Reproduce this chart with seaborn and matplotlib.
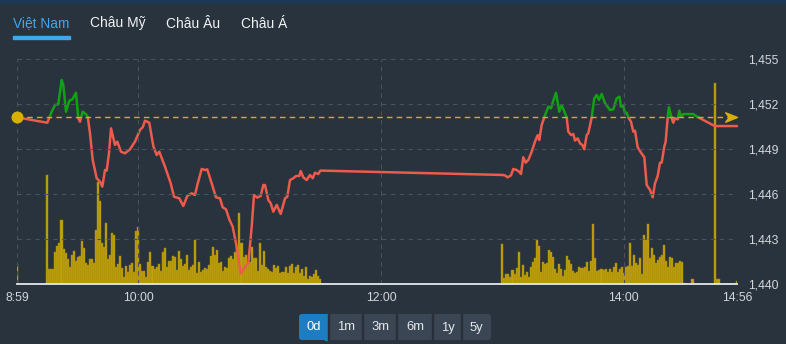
import numpy as np
import pandas as pd
import matplotlib
matplotlib.use("Agg")
import matplotlib.pyplot as plt
from matplotlib.patches import Rectangle, FancyBboxPatch
from matplotlib.path import Path
from matplotlib.transforms import IdentityTransform
from matplotlib.ticker import FuncFormatter
import seaborn as sns

# ---------------- data ----------------
ref_price = 1451.11

price_times = [
    "09:00:00", "09:15:00", "09:17:10", "09:18:47", "09:20:25", "09:22:06", "09:22:53", "09:24:14",
    "09:25:52", "09:27:21", "09:29:10", "09:30:19", "09:31:09", "09:32:29", "09:34:07", "09:34:58",
    "09:36:05", "09:37:26", "09:39:24", "09:41:02", "09:42:11", "09:43:31", "09:44:21", "09:45:29",
    "09:46:29", "09:48:27", "09:49:35", "09:51:25", "09:53:24", "09:55:52", "09:58:21", "10:00:49",
    "10:02:09", "10:03:17", "10:05:25", "10:07:23", "10:09:04", "10:10:21", "10:13:11", "10:16:00",
    "10:17:38", "10:20:15", "10:22:14", "10:24:12", "10:26:23", "10:28:01", "10:29:09", "10:31:19",
    "10:32:57", "10:34:05", "10:36:16", "10:38:23", "10:40:22", "10:41:42", "10:43:20", "10:44:58",
    "10:46:39", "10:48:17", "10:50:36", "10:52:44", "10:54:22", "10:56:03", "10:57:11", "10:58:49",
    "11:00:30", "11:01:47", "11:02:37", "11:04:15", "11:05:26", "11:06:44", "11:08:25", "11:10:23",
    "11:12:31", "11:13:39", "11:14:59", "11:16:37", "11:17:57", "11:19:35", "11:20:16", "11:21:34",
    "11:23:14", "11:24:52", "11:26:13", "11:27:20", "11:28:58", "11:30:00",
    "13:00:00", "13:01:17", "13:02:37", "13:04:15", "13:05:23", "13:07:04", "13:08:13", "13:09:12",
    "13:10:20", "13:11:31", "13:12:49", "13:14:29", "13:16:07", "13:17:28", "13:18:14", "13:19:26",
    "13:20:43", "13:22:42", "13:24:02", "13:25:10", "13:26:30", "13:28:08", "13:29:19", "13:30:57",
    "13:31:47", "13:32:35", "13:33:55", "13:35:04", "13:35:54", "13:37:14", "13:38:22", "13:39:31",
    "13:40:30", "13:41:41", "13:42:29", "13:44:10", "13:45:26", "13:46:38", "13:47:46", "13:49:06",
    "13:50:44", "13:53:12", "13:54:50", "13:56:31", "13:57:54", "13:58:38", "13:59:47", "14:00:37",
    "14:01:28", "14:02:15", "14:03:35", "14:04:43", "14:05:34", "14:06:54", "14:08:32", "14:10:10",
    "14:11:21", "14:12:59", "14:14:19", "14:15:27", "14:16:47", "14:17:56", "14:18:46", "14:20:03",
    "14:20:44", "14:21:44", "14:22:22", "14:23:43", "14:24:30", "14:25:20", "14:26:40", "14:27:28",
    "14:28:19", "14:29:27", "14:34:23", "14:36:52", "14:45:00", "14:56:00",
]
price_values = [
    1451.11, 1450.75, 1451.49, 1451.93, 1451.98, 1453.60, 1453.27, 1451.49,
    1452.22, 1452.30, 1452.75, 1451.05, 1450.82, 1451.49, 1451.31, 1451.15,
    1450.05, 1448.27, 1447.05, 1446.82, 1446.49, 1447.60, 1447.56, 1448.71,
    1450.38, 1449.27, 1449.49, 1448.82, 1448.71, 1448.98, 1449.49, 1450.27,
    1450.45, 1450.89, 1450.75, 1449.20, 1448.60, 1448.82, 1447.82, 1446.71,
    1445.82, 1445.71, 1445.20, 1445.87, 1446.05, 1445.93, 1446.60, 1447.67,
    1447.60, 1447.64, 1446.71, 1445.78, 1445.71, 1445.11, 1444.98, 1444.31,
    1443.82, 1442.71, 1440.71, 1441.15, 1441.38, 1443.82, 1445.93, 1445.76,
    1445.87, 1446.60, 1446.60, 1445.60, 1445.38, 1444.82, 1445.27, 1444.67,
    1445.71, 1445.82, 1446.93, 1447.05, 1447.20, 1447.20, 1447.53, 1447.11,
    1446.93, 1447.27, 1447.05, 1447.42, 1447.33, 1447.56,
    1447.27, 1447.24, 1447.11, 1447.24, 1447.67, 1447.60, 1447.49, 1447.33,
    1448.45, 1448.09, 1448.27, 1448.82, 1449.49, 1449.93, 1449.60, 1450.60,
    1451.11, 1451.82, 1451.71, 1452.22, 1452.75, 1451.49, 1451.93, 1451.38,
    1451.11, 1450.16, 1449.93, 1450.00, 1449.56, 1449.71, 1449.38, 1449.27,
    1448.98, 1449.93, 1450.05, 1451.11, 1452.38, 1452.60, 1452.27, 1452.67,
    1452.05, 1451.60, 1451.64, 1452.38, 1452.49, 1451.82, 1451.87, 1451.38,
    1451.42, 1451.11, 1450.82, 1450.16, 1450.22, 1449.11, 1448.76, 1448.45,
    1446.60, 1446.27, 1445.78, 1446.71, 1447.20, 1448.09, 1448.09, 1449.16,
    1449.49, 1451.11, 1451.78, 1451.05, 1450.75, 1451.05, 1450.98, 1451.56,
    1451.15, 1451.33, 1451.33, 1451.11, 1450.53, 1450.53,
]

# per-minute volume (relative units)
vol_am_start = "09:15"
vol_am = [
    109, 15, 15, 15, 32, 38, 41, 64, 35, 31, 25, 17, 29, 33, 23, 27, 28, 43, 36, 21,
    19, 25, 25, 21, 54, 102, 83, 41, 37, 61, 25, 29, 51, 49, 17, 20, 28, 16, 7, 18,
    12, 19, 21, 12, 53, 57, 20, 13, 13, 7, 22, 32, 18, 15, 17, 20, 13, 32, 36, 17,
    23, 23, 28, 27, 14, 33, 25, 18, 20,
    29, 14, 17, 19, 44, 11, 22, 12, 14, 16, 15, 19, 28, 37, 29, 34, 21, 22, 13, 17,
    16, 26, 28, 25, 32, 38, 71, 41, 27, 29, 20, 22, 37, 26, 26, 13, 41, 19, 33, 17,
    15, 13, 12, 19, 16, 18, 11, 12, 12, 17, 11, 18, 20, 11, 17, 19, 11, 15, 8, 17,
    5, 8, 7, 10, 14, 8, 5,
]
vol_pm_start = "13:00"
vol_pm = [
    40, 6, 10, 10, 7, 14, 10, 16, 32, 7, 19, 9, 12, 7, 17, 22, 26, 44, 38, 12,
    22, 20, 21, 34, 32, 27, 15, 11, 20, 15, 8, 14, 28, 24, 20, 13, 11, 12, 17, 16,
    16, 17, 22, 13, 23, 60, 26, 13, 14, 15, 14, 15, 12, 15, 12, 17, 21,
    12, 15, 17, 11, 17, 18, 41, 18, 29, 21, 19, 26, 10, 49, 44, 60, 26, 36, 29, 21,
    24, 27, 29, 39, 23, 17, 27, 26, 17, 21, 21, 23, 22, 1,
]
vol_extra_times = ["09:00", "14:34", "14:45", "14:46", "14:47", "14:56"]
vol_extra = [20, 5, 201, 5, 5, 3]

axis_start, axis_end = "09:00", "14:56"
x_tick_times = ["09:00", "10:00", "12:00", "14:00", "14:56"]
x_tick_labels = ["8:59", "10:00", "12:00", "14:00", "14:56"]
y_ticks = [1440, 1443, 1446, 1449, 1452, 1455]
tabs = ["Việt Nam", "Châu Mỹ", "Châu Âu", "Châu Á"]
ranges = ["0d", "1m", "3m", "6m", "1y", "5y"]

# ---------------- style ----------------
BG = "#29333d"
GRID = "#4a535d"
RED = "#ee5a4b"
GREEN = "#13a113"
GOLD = "#d8b100"
BAR = "#c4a309"
BAR_EDGE = "#9a8412"
TXT = "#d2d6db"

sns.set_style("dark")
plt.rcParams["font.family"] = ["Liberation Sans", "DejaVu Sans"]


def to_min(s):
    p = [int(v) for v in s.split(":")]
    return p[0] * 60 + p[1] + (p[2] / 60 if len(p) > 2 else 0)


price_df = pd.DataFrame({"t": [to_min(s) for s in price_times], "price": price_values})

am_t = to_min(vol_am_start) + np.arange(len(vol_am))
pm_t = to_min(vol_pm_start) + np.arange(len(vol_pm))
vol_df = pd.DataFrame({
    "t": np.concatenate([am_t, pm_t, [to_min(s) for s in vol_extra_times]]),
    "vol": np.concatenate([vol_am, vol_pm, vol_extra]).astype(float),
}).sort_values("t")

W, H = 786, 344
fig = plt.figure(figsize=(W / 100, H / 100), dpi=100)
fig.patch.set_facecolor(BG)

ax = fig.add_axes([17 / W, 60 / H, 720 / W, 225 / H])
ax_v = ax.twinx()
ax_v.set_zorder(ax.get_zorder() - 1)
ax.patch.set_visible(False)
ax_v.set_facecolor(BG)

x0, x1 = to_min(axis_start), to_min(axis_end)

# volume bars
sns.barplot(data=vol_df, x="t", y="vol", native_scale=True, orient="x", width=1.0,
            color=BAR, edgecolor=BAR_EDGE, linewidth=0.35, errorbar=None,
            saturation=1, ax=ax_v)
ax_v.set_ylim(0, 225)
ax_v.set_xlim(x0, x1)
ax_v.set_yticks([])
ax_v.set_xlabel("")
ax_v.set_ylabel("")
for s in ax_v.spines.values():
    s.set_visible(False)

# price line: green above reference, red below
for col, lower in ((RED, True), (GREEN, False)):
    sns.lineplot(data=price_df, x="t", y="price", sort=False, estimator=None,
                 color=col, linewidth=1.8, ax=ax)
    ln = ax.lines[-1]
    if lower:
        clip = Rectangle((x0 - 10, 1400), x1 - x0 + 20, ref_price - 1400, transform=ax.transData)
    else:
        clip = Rectangle((x0 - 10, ref_price), x1 - x0 + 20, 100, transform=ax.transData)
    ln.set_clip_path(clip)

ax.axhline(ref_price, color=GOLD, linestyle=(0, (4, 3)), linewidth=1.0, zorder=3)
sns.scatterplot(x=[price_df["t"].iloc[0]], y=[ref_price], color=GOLD, s=75,
                linewidth=0, ax=ax, zorder=6, clip_on=False)
arrow = Path([(-2.0, -0.8), (0.0, 0.0), (-2.0, 0.8), (-1.4, 0.0), (-2.0, -0.8)],
             [Path.MOVETO, Path.LINETO, Path.LINETO, Path.LINETO, Path.CLOSEPOLY])
ax.plot([x1], [ref_price], marker=arrow, markersize=17, color=GOLD, clip_on=False,
        linestyle="none", zorder=6)

ax.set_xlim(x0, x1)
ax.set_ylim(y_ticks[0], y_ticks[-1])
ax.set_xlabel("")
ax.set_ylabel("")
ax.set_xticks([to_min(s) for s in x_tick_times])
ax.set_xticklabels(x_tick_labels)
ax.set_yticks(y_ticks)
ax.yaxis.set_major_formatter(FuncFormatter(lambda v, p: f"{v:,.0f}"))
ax.yaxis.tick_right()
ax.grid(True, color=GRID, linestyle=(0, (4, 4)), linewidth=0.8)
ax.set_axisbelow(False)
for k, s in ax.spines.items():
    s.set_visible(k == "bottom")
ax.spines["bottom"].set_color("#e6e8ea")
ax.spines["bottom"].set_linewidth(1.3)
ax.spines["bottom"].set_zorder(7)
ax.tick_params(axis="x", colors="#e6e8ea", labelcolor=TXT, length=4, width=1,
               labelsize=8.8, pad=1.5, direction="out")
ax.tick_params(axis="y", length=0, labelcolor=TXT, labelsize=8.8, pad=8)

# ---------------- page chrome ----------------
ID = IdentityTransform()


def box(x, y, w, h, color, **kw):
    p = Rectangle((x, H - y - h), w, h, transform=ID, color=color, **kw)
    fig.patches.append(p)
    return p


box(0, 0, W, 3, "#1b3957")
tab_x = [13, 90, 166, 241]
for i, (t, tx) in enumerate(zip(tabs, tab_x)):
    fig.text(tx, H - 23.5, t, transform=ID, fontsize=9.9, va="center", ha="left",
             color="#3fa7ef" if i == 0 else "#f2f4f6")
box(13, 35.5, 57, 3, "#3fa7ef")

# range buttons
bx = [299, 329, 363, 397, 433, 462, 491]
grp = FancyBboxPatch((299, H - 340), 192, 26, boxstyle="round,pad=0,rounding_size=3",
                     transform=ID, facecolor="#3a4653", edgecolor="none")
fig.patches.append(grp)
act = FancyBboxPatch((299, H - 340), 29, 26, boxstyle="round,pad=0,rounding_size=3",
                     transform=ID, facecolor="#1c7dc3", edgecolor="none")
fig.patches.append(act)
box(325, 314, 3, 26, "#1c7dc3")
for i, r in enumerate(ranges):
    if i > 0:
        box(bx[i] - 1, 314, 1.2, 26, "#27303a")
    fig.text((bx[i] + bx[i + 1]) / 2, H - 327.5, r, transform=ID, fontsize=9.4,
             ha="center", va="center", color="#ffffff" if i == 0 else "#e4e8ec")

fig.savefig("out.png", dpi=100, facecolor=BG)
